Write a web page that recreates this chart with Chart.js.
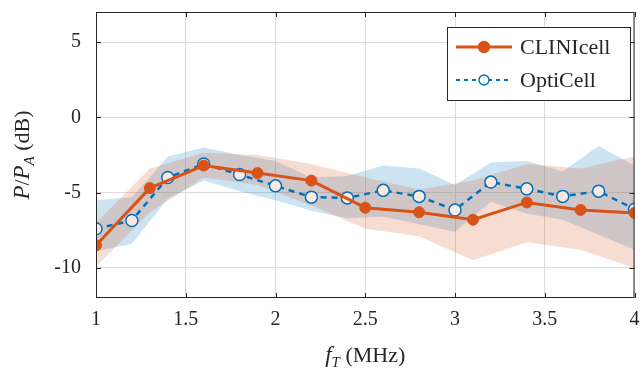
<!DOCTYPE html>
<html>
<head>
<meta charset="utf-8">
<script src="https://cdn.jsdelivr.net/npm/chart.js@4/dist/chart.umd.min.js"></script>
<style>
  html, body { margin: 0; padding: 0; background: #fff; }
  canvas { display: block; }
</style>
</head>
<body>
<canvas id="chart" width="642" height="371"></canvas>
<script>
// CLINIcell: mean and shaded band (upper / lower), every 0.3 MHz
var clinFreq  = [1.0, 1.3, 1.6, 1.9, 2.2, 2.5, 2.8, 3.1, 3.4, 3.7, 4.0];
var clinMean  = [-8.5, -4.7, -3.2, -3.7, -4.2, -6.0, -6.3, -6.8, -5.65, -6.15, -6.35];
var clinUpper = [-7.0, -3.4, -2.35, -2.5, -3.1, -4.0, -4.8, -4.2, -3.1, -3.4, -2.6];
var clinLower = [-9.9, -6.3, -4.0, -4.5, -5.85, -7.4, -7.9, -9.5, -8.3, -8.8, -10.0];

// OptiCell: mean and shaded band, every 0.2 MHz
var optiFreq  = [1.0, 1.2, 1.4, 1.6, 1.8, 2.0, 2.2, 2.4, 2.6, 2.8, 3.0, 3.2, 3.4, 3.6, 3.8, 4.0];
var optiMean  = [-7.4, -6.85, -4.0, -3.1, -3.8, -4.55, -5.3, -5.35, -4.85, -5.25, -6.15, -4.3, -4.75, -5.25, -4.9, -6.1];
var optiUpper = [-5.5, -5.3, -2.6, -2.0, -2.5, -2.9, -4.0, -3.9, -3.2, -3.4, -4.5, -3.0, -2.9, -3.6, -1.9, -3.2];
var optiLower = [-8.9, -8.4, -5.4, -4.2, -4.9, -5.5, -6.2, -6.7, -6.6, -7.1, -7.6, -5.6, -6.4, -6.8, -7.8, -8.8];

var xTicks = [1, 1.5, 2, 2.5, 3, 3.5, 4];
var yTicks = [-10, -5, 0, 5];

var orange = '#D95319';
var blue = '#0072BD';
var serif = '"Liberation Serif", "Times New Roman", serif';

function pts(xs, ys) {
  return xs.map(function(x, i) { return {x: x, y: ys[i]}; });
}

function bandPair(xs, up, lo, color, order) {
  return [
    { data: pts(xs, up), borderWidth: 0, pointRadius: 0, fill: false, order: order, showLine: true },
    { data: pts(xs, lo), borderWidth: 0, pointRadius: 0, fill: '-1', backgroundColor: color, order: order, showLine: true }
  ];
}

// axis frame, inner ticks, titles and legend
var decor = {
  id: 'decor',
  afterDraw: function(chart) {
    var c = chart.ctx, a = chart.chartArea;
    var xs = chart.scales.x, ys = chart.scales.y;
    c.save();
    c.strokeStyle = '#262626';
    c.lineWidth = 1;
    c.strokeRect(a.left + 0.5, a.top + 0.5, a.right - a.left - 1, a.bottom - a.top - 1);
    c.beginPath();
    xTicks.forEach(function(v) {
      var px = Math.round(xs.getPixelForValue(v)) + 0.5;
      c.moveTo(px, a.bottom); c.lineTo(px, a.bottom - 5);
      c.moveTo(px, a.top); c.lineTo(px, a.top + 5);
    });
    yTicks.forEach(function(v) {
      var py = Math.round(ys.getPixelForValue(v)) + 0.5;
      c.moveTo(a.left, py); c.lineTo(a.left + 5, py);
      c.moveTo(a.right, py); c.lineTo(a.right - 5, py);
    });
    c.stroke();

    // x title: f_T (MHz)
    c.fillStyle = '#262626';
    var cx = (a.left + a.right) / 2, by = 362;
    drawParts(c, [
      {t: 'f', f: 'italic 23px ' + serif, dy: 0},
      {t: 'T', f: 'italic 15px ' + serif, dy: 5},
      {t: ' (MHz)', f: '22px ' + serif, dy: 0}
    ], cx, by);

    // y title: P/P_A (dB)
    c.save();
    c.translate(29, (a.top + a.bottom) / 2);
    c.rotate(-Math.PI / 2);
    drawParts(c, [
      {t: 'P', f: 'italic 23px ' + serif, dy: 0},
      {t: '/', f: '22px ' + serif, dy: 0},
      {t: 'P', f: 'italic 23px ' + serif, dy: 0},
      {t: 'A', f: 'italic 15px ' + serif, dy: 5},
      {t: ' (dB)', f: '22px ' + serif, dy: 0}
    ], 0, 0);
    c.restore();

    // legend
    var lx = 447, ly = 27, lw = 183, lh = 73;
    c.fillStyle = '#fff';
    c.fillRect(lx, ly, lw, lh);
    c.strokeStyle = '#262626';
    c.lineWidth = 1;
    c.strokeRect(lx + 0.5, ly + 0.5, lw, lh);
    var rows = [
      {label: 'CLINIcell', y: ly + 20, color: orange, dash: [], lw: 3, fill: orange, r: 5.5},
      {label: 'OptiCell', y: ly + 53, color: blue, dash: [4, 4], lw: 2, fill: '#fff', r: 5}
    ];
    rows.forEach(function(r) {
      c.strokeStyle = r.color;
      c.lineWidth = r.lw;
      c.setLineDash(r.dash);
      c.beginPath();
      c.moveTo(lx + 9, r.y); c.lineTo(lx + 65, r.y);
      c.stroke();
      c.setLineDash([]);
      c.beginPath();
      c.arc(lx + 37, r.y, r.r, 0, Math.PI * 2);
      c.fillStyle = r.fill; c.fill();
      c.lineWidth = 1.5; c.stroke();
      c.fillStyle = '#262626';
      c.font = '22px ' + serif;
      c.textAlign = 'left';
      c.textBaseline = 'middle';
      c.fillText(r.label, lx + 73, r.y + 1);
    });
    c.restore();
  }
};

function drawParts(c, parts, cx, by) {
  var total = 0;
  parts.forEach(function(p) { c.font = p.f; p.w = c.measureText(p.t).width; total += p.w; });
  var x = cx - total / 2;
  c.textAlign = 'left';
  c.textBaseline = 'alphabetic';
  parts.forEach(function(p) {
    c.font = p.f;
    c.fillText(p.t, x, by + p.dy);
    x += p.w;
  });
}

var datasets = []
  .concat(bandPair(optiFreq, optiUpper, optiLower, 'rgba(0,114,189,0.2)', 3))
  .concat(bandPair(clinFreq, clinUpper, clinLower, 'rgba(217,83,25,0.2)', 2))
  .concat([
    {
      label: 'OptiCell',
      data: pts(optiFreq, optiMean),
      borderColor: blue,
      borderWidth: 2.5,
      borderDash: [6, 5],
      pointRadius: 6,
      pointBorderWidth: 1.5,
      pointBorderColor: blue,
      pointBackgroundColor: '#fbe9e2',
      fill: false,
      showLine: true,
      order: 1
    },
    {
      label: 'CLINIcell',
      data: pts(clinFreq, clinMean),
      borderColor: orange,
      borderWidth: 3,
      pointRadius: 5.5,
      pointBorderWidth: 1,
      pointBorderColor: orange,
      pointBackgroundColor: orange,
      fill: false,
      showLine: true,
      order: 0
    }
  ]);

var ctx = document.getElementById('chart').getContext('2d');
var chart = new Chart(ctx, {
  type: 'scatter',
  data: { datasets: datasets },
  options: {
    responsive: false,
    animation: false,
    devicePixelRatio: 1,
    layout: { padding: { top: 12, right: 1, left: 0, bottom: 0 } },
    plugins: { legend: { display: false }, tooltip: { enabled: false } },
    scales: {
      x: {
        type: 'linear',
        min: 1, max: 4,
        afterBuildTicks: function(s) { s.ticks = xTicks.map(function(v) { return {value: v}; }); },
        afterFit: function(s) { s.height = 73; s.paddingLeft = 0; s.paddingRight = 0; },
        grid: { color: '#dcdcdc', lineWidth: 1, drawTicks: false },
        border: { display: false },
        ticks: {
          color: '#262626', font: { family: serif, size: 20 }, padding: 10, maxRotation: 0,
          callback: function(v) { return String(v); }
        }
      },
      y: {
        type: 'linear',
        min: -12, max: 7,
        afterBuildTicks: function(s) { s.ticks = yTicks.map(function(v) { return {value: v}; }); },
        afterFit: function(s) { s.width = 96; s.paddingTop = 0; s.paddingBottom = 0; },
        grid: { color: '#dcdcdc', lineWidth: 1, drawTicks: false },
        border: { display: false },
        ticks: {
          color: '#262626', font: { family: serif, size: 20 }, padding: 15,
          callback: function(v) { return String(v); }
        }
      }
    }
  },
  plugins: [decor]
});
</script>
</body>
</html>
